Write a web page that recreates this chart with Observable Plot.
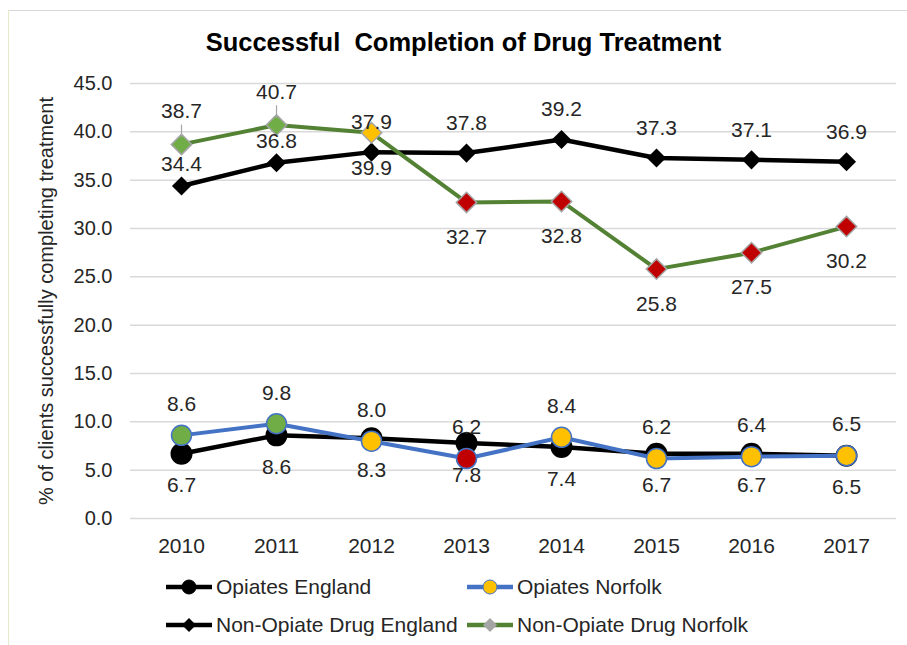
<!DOCTYPE html>
<html>
<head>
<meta charset="utf-8">
<script src="https://cdn.jsdelivr.net/npm/d3@7"></script>
<script src="https://cdn.jsdelivr.net/npm/@observablehq/plot@0.6"></script>
<style>
  html, body { margin: 0; padding: 0; background: #fff; }
  body { font-family: "Liberation Sans", Arial, sans-serif; color: #262626; }
  #wrap { position: relative; width: 907px; height: 645px; overflow: hidden; }
  #bordertop { position: absolute; left: 9px; top: 10px; width: 898px; height: 0; border-top: 1.5px solid #d9d9d9; }
  #borderleft { position: absolute; left: 8px; top: 10px; width: 0; height: 640px; border-left: 1.5px solid #e3ebc9; }
  #title { height: 30px; padding-top: 30px; line-height: 25px; text-align: center; font-weight: bold; font-size: 25.5px; color: #000; white-space: pre; padding-left: 20px; }
  #chart svg { display: block; }
  #legend { position: relative; height: 75px; font-size: 21px; color: #262626; }
  .item { position: absolute; display: flex; align-items: center; height: 24px; white-space: nowrap; }
  .item svg { margin-right: 3px; }
</style>
</head>
<body>
<div id="wrap">
  <div id="bordertop"></div>
  <div id="borderleft"></div>
  <div id="title">Successful  Completion of Drug Treatment</div>
  <div id="chart"></div>
  <div id="legend"></div>
</div>
<script>
// ---- data ----
const years = [2010, 2011, 2012, 2013, 2014, 2015, 2016, 2017];
const seriesNames = ["Opiates England", "Opiates Norfolk", "Non-Opiate Drug England", "Non-Opiate Drug Norfolk"];

const opiatesEngland = [6.7, 8.6, 8.3, 7.8, 7.4, 6.7, 6.7, 6.5];
const opiatesNorfolk = [8.6, 9.8, 8.0, 6.2, 8.4, 6.2, 6.4, 6.5];
const nonOpiateEngland = [34.4, 36.8, 37.9, 37.8, 39.2, 37.3, 37.1, 36.9];
const nonOpiateNorfolk = [38.7, 40.7, 39.9, 32.7, 32.8, 25.8, 27.5, 30.2];

// data labels as printed on the chart
const opiatesEnglandLabels = ["6.7", "8.6", "8.3", "7.8", "7.4", "6.7", "6.7", "6.5"];
const opiatesNorfolkLabels = ["8.6", "9.8", "8.0", "6.2", "8.4", "6.2", "6.4", "6.5"];
const nonOpiateEnglandLabels = ["34.4", "36.8", "37.9", "37.8", "39.2", "37.3", "37.1", "36.9"];
const nonOpiateNorfolkLabels = ["38.7", "40.7", "39.9", "32.7", "32.8", "25.8", "27.5", "30.2"];

// RAG ratings of the Norfolk markers
const opiatesNorfolkRating = ["green", "green", "amber", "red", "amber", "amber", "amber", "amber"];
const nonOpiateNorfolkRating = ["green", "green", "amber", "red", "red", "red", "red", "red"];

const yTicks = [0, 5, 10, 15, 20, 25, 30, 35, 40, 45];
const yLabel = "% of clients successfully completing treatment";

// ---- build tables ----
const ragColor = {green: "#70ad47", amber: "#ffc000", red: "#c00000"};
function table(values, labels, rating) {
  return years.map((year, i) => ({year, value: values[i], label: labels[i], rating: rating ? rating[i] : null}));
}
const oE = table(opiatesEngland, opiatesEnglandLabels);
const oN = table(opiatesNorfolk, opiatesNorfolkLabels, opiatesNorfolkRating);
const nE = table(nonOpiateEngland, nonOpiateEnglandLabels);
const nN = table(nonOpiateNorfolk, nonOpiateNorfolkLabels, nonOpiateNorfolkRating);
const early = d => d.year < 2012;
const late = d => d.year >= 2012;

const font = "Liberation Sans, Arial, sans-serif";
const txt = "#262626";
const fs = 21;

const chart = Plot.plot({
  width: 907,
  height: 510,
  marginTop: 23,
  marginBottom: 52,
  marginLeft: 130,
  marginRight: 11,
  style: {fontFamily: font, fontSize: fs + "px", color: txt, background: "transparent"},
  x: {type: "point", domain: years, padding: 0.5},
  y: {domain: [0, 45]},
  marks: [
    Plot.gridY(yTicks, {stroke: "#d9d9d9", strokeOpacity: 1, strokeWidth: 1.5}),
    Plot.axisY({ticks: yTicks, tickSize: 0, tickPadding: 18, tickFormat: d3.format(".1f"), fontSize: fs, fill: txt,
      label: yLabel, labelAnchor: "center", labelArrow: "none", labelOffset: 92, fontSize: 20}),
    Plot.axisX({tickSize: 0, tickPadding: 20, tickFormat: d => `${d}`, fontSize: fs, fill: txt, label: null}),

    // Opiates England
    Plot.line(oE, {x: "year", y: "value", stroke: "#000", strokeWidth: 4.5}),
    Plot.dot(oE, {x: "year", y: "value", r: 11, fill: "#000"}),
    // Opiates Norfolk
    Plot.line(oN, {x: "year", y: "value", stroke: "#4472c4", strokeWidth: 4}),
    Plot.dot(oN, {x: "year", y: "value", r: 10, fill: d => ragColor[d.rating], stroke: "#4472c4", strokeWidth: 1.5}),
    // Non-Opiate England
    Plot.line(nE, {x: "year", y: "value", stroke: "#000", strokeWidth: 4.5}),
    Plot.dot(nE, {x: "year", y: "value", r: 8.6, symbol: "diamond2", fill: "#000"}),
    // Non-Opiate Norfolk
    Plot.line(nN, {x: "year", y: "value", stroke: "#548235", strokeWidth: 4}),
    Plot.dot(nN, {x: "year", y: "value", r: 9.2, symbol: "diamond2", fill: d => ragColor[d.rating], stroke: "#a5a5a5", strokeWidth: 1.5}),
    // leader lines for the first two Norfolk labels
    Plot.ruleX(nN.filter(early), {x: "year", y1: d => d.value + 0.7, y2: d => d.value + 2.0, stroke: "#a5a5a5", strokeWidth: 1.2}),

    // data labels
    Plot.text(nE.filter(early), {x: "year", y: "value", text: "label", dy: -22, fill: txt, fontSize: fs}),
    Plot.text(nE.filter(late), {x: "year", y: "value", text: "label", dy: -30, fill: txt, fontSize: fs}),
    Plot.text(nN.filter(early), {x: "year", y: "value", text: "label", dy: -33, fill: txt, fontSize: fs}),
    Plot.text(nN.filter(late), {x: "year", y: "value", text: "label", dy: 35, fill: txt, fontSize: fs}),
    Plot.text(oN, {x: "year", y: "value", text: "label", dy: -31, fill: txt, fontSize: fs}),
    Plot.text(oE, {x: "year", y: "value", text: "label", dy: 32, fill: txt, fontSize: fs})
  ]
});
document.getElementById("chart").appendChild(chart);

// ---- legend ----
const legendItems = [
  {name: seriesNames[0], stroke: "#000", fill: "#000", mstroke: "#000", shape: "circle", left: 165, top: 5},
  {name: seriesNames[1], stroke: "#4472c4", fill: "#ffc000", mstroke: "#4472c4", shape: "circle", left: 466, top: 5},
  {name: seriesNames[2], stroke: "#000", fill: "#000", mstroke: "#000", shape: "diamond", left: 165, top: 43},
  {name: seriesNames[3], stroke: "#548235", fill: "#a5a5a5", mstroke: "#a5a5a5", shape: "diamond", left: 466, top: 43}
];
const legend = document.getElementById("legend");
for (const it of legendItems) {
  const marker = it.shape === "circle"
    ? `<circle cx="24" cy="10" r="7" fill="${it.fill}" stroke="${it.mstroke}" stroke-width="1"/>`
    : `<path d="M24 3 L31 10 L24 17 L17 10 Z" fill="${it.fill}"/>`;
  const div = document.createElement("div");
  div.className = "item";
  div.style.left = it.left + "px";
  div.style.top = it.top + "px";
  div.innerHTML = `<svg width="48" height="20"><line x1="1" y1="10" x2="47" y2="10" stroke="${it.stroke}" stroke-width="4.5"/>${marker}</svg><span>${it.name}</span>`;
  legend.appendChild(div);
}
</script>
</body>
</html>
